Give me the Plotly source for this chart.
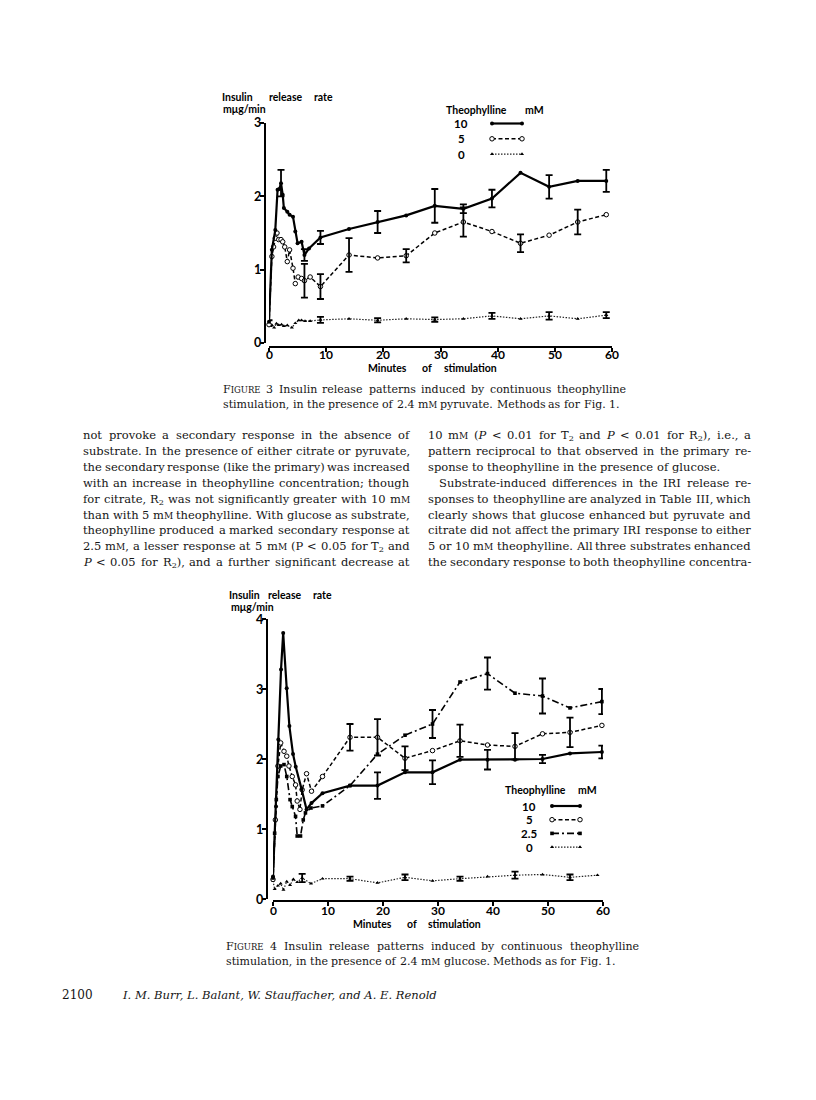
import re
import plotly.graph_objects as go

W, H = 816, 1100          # browser window
OFF = 8                   # default body margin of the page
FW, FH = W - 2 * OFF, H - 2 * OFF

# ---------------- data : Figure 3 (2.4 mM pyruvate) ----------------
f3_xticks = [0, 10, 20, 30, 40, 50, 60]
f3_yticks = [0, 1, 2, 3]

f3_t10 = [0, 0.5, 1.1, 1.5, 1.8, 2.1, 2.4, 2.6, 3.2, 3.6, 4.2, 4.6, 5.0, 5.7, 6.2, 7.0,
          9, 14, 19, 24, 29, 34, 39, 44, 49, 54, 59]
f3_v10 = [0.29, 1.27, 1.54, 2.09, 2.10, 2.18, 2.02, 1.84, 1.79, 1.75, 1.72, 1.52, 1.36, 1.38, 1.20, 1.29,
          1.44, 1.555, 1.65, 1.74, 1.87, 1.83, 1.97, 2.32, 2.13, 2.21, 2.21]
f3_e10 = [None, None, None, None, None, 0.18, None, None, None, None, None, None, None, None, 0.08, None,
          0.09, None, 0.15, None, 0.23, 0.06, 0.12, None, 0.16, None, 0.15]

f3_t5 = [0, 0.5, 0.8, 1.1, 1.4, 1.7, 2.1, 2.4, 2.75, 3.2, 3.6, 4.2, 4.6, 5.1, 5.7, 6.2, 7.2,
         9, 14, 19, 24, 29, 34, 39, 44, 49, 54, 59]
f3_v5 = [0.25, 1.18, 1.31, 1.43, 1.50, 1.41, 1.41, 1.38, 1.31, 1.11, 1.27, 1.02, 0.81, 0.90, 0.88, 0.85, 0.90,
         0.77, 1.20, 1.16, 1.19, 1.50, 1.65, 1.52, 1.36, 1.47, 1.65, 1.75]
f3_e5 = [None, None, None, None, None, None, None, None, None, None, None, None, None, None, None, 0.23, None,
         0.17, 0.23, None, 0.09, None, 0.20, None, 0.12, None, 0.17, None]

f3_t0 = [0, 0.5, 0.9, 1.3, 1.7, 2.2, 2.6, 3.2, 4.0, 4.6, 5.2, 5.7, 6.3, 7.2,
         9, 14, 19, 24, 29, 34, 39, 44, 49, 54, 59]
f3_v0 = [0.27, 0.245, 0.21, 0.265, 0.245, 0.25, 0.23, 0.24, 0.21, 0.27, 0.31, 0.31, 0.30, 0.30,
         0.315, 0.33, 0.31, 0.33, 0.32, 0.33, 0.37, 0.33, 0.37, 0.33, 0.38]
f3_e0 = [0.04, None, None, None, None, None, None, None, None, None, None, None, None, None,
         0.04, None, 0.03, None, 0.03, None, 0.04, None, 0.05, None, 0.04]

# ---------------- data : Figure 4 (2.4 mM glucose) ----------------
f4_xticks = [0, 10, 20, 30, 40, 50, 60]
f4_yticks = [0, 1, 2, 3, 4]

f4_t10 = [0, 0.55, 0.97, 1.46, 1.85, 2.49, 2.98, 3.64, 4.13, 5.2, 6.1, 7.0,
          9, 14, 19, 24, 29, 34, 39, 44, 49, 54, 59.8]
f4_v10 = [0.32, 1.32, 2.28, 3.28, 3.80, 3.01, 2.47, 2.07, 1.89, 1.57, 1.28, 1.37,
          1.51, 1.62, 1.62, 1.81, 1.81, 1.99, 1.99, 1.99, 2.00, 2.08, 2.10]
f4_e10 = [None, None, None, None, None, None, None, None, None, None, None, None,
          None, None, 0.19, None, 0.17, None, 0.14, None, 0.06, None, 0.09]

f4_t5 = [0, 0.43, 0.9, 1.4, 2.0, 2.5, 2.9, 3.5, 4.1, 4.4, 4.9, 5.3, 6.1, 7.0,
         9, 14, 19, 24, 29, 34, 39, 44, 49, 54, 59.8]
f4_v5 = [0.28, 1.13, 1.90, 2.23, 2.11, 2.04, 1.90, 1.75, 1.63, 1.40, 1.28, 1.56, 1.79, 1.54,
         1.75, 2.31, 2.31, 2.01, 2.12, 2.26, 2.20, 2.18, 2.36, 2.38, 2.48]
f4_e5 = [None, None, None, None, None, None, None, None, None, None, None, None, None, None,
         None, 0.19, 0.26, 0.17, None, 0.23, None, 0.19, None, 0.21, None]

f4_t25 = [0, 0.3, 0.6, 0.9, 1.4, 2.0, 2.5, 3.1, 3.5, 4.1, 4.4, 5.0, 5.5, 5.9, 6.9,
          9, 14, 19, 24, 29, 34, 39, 44, 49, 54, 59.8]
f4_v25 = [0.30, 0.94, 1.42, 1.75, 1.90, 1.92, 1.75, 1.42, 1.32, 1.18, 0.90, 0.90, 1.13, 1.23, 1.30,
          1.33, 1.62, 2.07, 2.34, 2.50, 3.10, 3.22, 2.94, 2.90, 2.73, 2.82]
f4_e25 = [None, None, None, None, None, None, None, None, None, None, None, None, None, None, None,
          None, None, None, None, 0.20, None, 0.23, None, 0.25, None, 0.18]

f4_t0 = [0, 0.3, 0.9, 1.4, 1.9, 2.5, 3.1, 3.7, 4.4, 5.3, 6.9,
         9, 14, 19, 24, 29, 34, 39, 44, 49, 54, 59]
f4_v0 = [0.26, 0.14, 0.19, 0.22, 0.13, 0.25, 0.20, 0.28, 0.24, 0.30, 0.22,
         0.29, 0.29, 0.23, 0.31, 0.26, 0.29, 0.32, 0.34, 0.35, 0.31, 0.34]
f4_e0 = [None, None, None, None, None, None, None, None, None, 0.06, None,
         None, 0.03, None, 0.04, None, 0.03, None, 0.05, None, 0.04, None]

f3_legend = ["10", "5", "0"]
f4_legend = ["10", "5", "2.5", "0"]

# ---------------- text ----------------
left_lines = [
    "not provoke a secondary response in the absence of",
    "substrate. In the presence of either citrate or pyruvate,",
    "the secondary response (like the primary) was increased",
    "with an increase in theophylline concentration; though",
    "for citrate, R_2 was not significantly greater with 10 m{M}",
    "than with 5 m{M} theophylline. With glucose as substrate,",
    "theophylline produced a marked secondary response at",
    "2.5 m{M}, a lesser response at 5 m{M} (P &lt; 0.05 for T_2 and",
    "*P* &lt; 0.05 for R_2), and a further significant decrease at",
]
right_lines = [
    "10 m{M} (*P* &lt; 0.01 for T_2 and *P* &lt; 0.01 for R_2), i.e., a",
    "pattern reciprocal to that observed in the primary re-",
    "sponse to theophylline in the presence of glucose.",
    "Substrate-induced differences in the IRI release re-",
    "sponses to theophylline are analyzed in Table III, which",
    "clearly shows that glucose enhanced but pyruvate and",
    "citrate did not affect the primary IRI response to either",
    "5 or 10 m{M} theophylline. All three substrates enhanced",
    "the secondary response to both theophylline concentra-",
]
cap3 = ["F{IGURE} 3 Insulin release patterns induced by continuous theophylline",
        "stimulation, in the presence of 2.4 m{M} pyruvate. Methods as for Fig. 1."]
cap4 = ["F{IGURE} 4 Insulin release patterns induced by continuous theophylline",
        "stimulation, in the presence of 2.4 m{M} glucose. Methods as for Fig. 1."]
page_no = "2100"
authors = "I. M. Burr, L. Balant, W. Stauffacher, and A. E. Renold"

# ---------------- helpers ----------------
def px_x(px):
    return (px - OFF) / FW


def px_y(py):
    return 1 - (py - OFF) / FH


DV = {' ': .318, '.': .318, ',': .318, ';': .337, ':': .337, '(': .390, ')': .390, '-': .338,
      '<': .838, "'": .275}
for c in '0123456789':
    DV[c] = .636
DV.update(dict(a=.596, b=.640, c=.560, d=.640, e=.592, f=.370, g=.640, h=.644, i=.320, j=.310,
               k=.600, l=.320, m=.948, n=.644, o=.602, p=.640, q=.640, r=.478, s=.513, t=.402,
               u=.644, v=.565, w=.856, x=.564, y=.565, z=.523,
               A=.722, B=.735, C=.720, D=.802, E=.730, F=.694, G=.799, H=.872, I=.395, J=.401,
               K=.747, L=.664, M=1.024, N=.875, O=.820, P=.673, Q=.820, R=.753, S=.685, T=.667,
               U=.843, V=.722, W=1.028, X=.712, Y=.660, Z=.695))


def est_px(raw, size, sc):
    raw = raw.replace('&lt;', '<')
    tot = 0.0
    for m in re.finditer(r'\{([A-Z]+)\}|([A-Za-z])_2|\*|.', raw):
        if m.group(1):
            tot += sum(DV.get(c, .7) for c in m.group(1)) * sc
        elif m.group(2):
            tot += DV.get(m.group(2), .7) * size + DV['2'] * size * 0.7
        elif m.group(0) == '*':
            continue
        else:
            tot += DV.get(m.group(0), .6) * size
    return tot


def markup(raw, sc):
    s = re.sub(r'\{([A-Z]+)\}', lambda m: "<span style='font-size:%gpx'>%s</span>" % (sc, m.group(1)), raw)
    s = re.sub(r'([A-Za-z])_2', r'\1<sub>2</sub>', s)
    s = re.sub(r'\*([^*]+)\*', r'<i>\1</i>', s)
    return s


SERIF = "DejaVu Serif"
INK = "#151515"
annotations = []


def add_text_line(text, x0, x1, yc, size, sc, justify):
    words = text.split()
    widths = [est_px(w, size, sc) for w in words]
    if justify and len(words) > 1:
        gap = (x1 - x0 - sum(widths)) / (len(words) - 1)
    else:
        gap = DV[' '] * size
    x = x0
    n = len(words)
    for k, (w, wd) in enumerate(zip(words, widths)):
        if k == 0:
            xa, xp = 'left', x
        elif justify and k == n - 1:
            xa, xp = 'right', x1
        else:
            xa, xp = 'center', x + wd / 2
        annotations.append(dict(x=px_x(xp), y=px_y(yc - 0.62 * size), xref='paper', yref='paper',
                                xanchor=xa, yanchor='top', text=markup(w, sc), showarrow=False,
                                borderpad=0, borderwidth=0,
                                font=dict(family=SERIF, size=size, color=INK)))
        x += wd + gap


def lato(size):
    return dict(family='Lato', size=size, color='black', weight='bold')


def add_label(text, xc, yc, size=10, anchor='center'):
    annotations.append(dict(x=px_x(xc), y=px_y(yc), xref='paper', yref='paper', xanchor=anchor,
                            yanchor='middle', text=text, showarrow=False, borderpad=0, borderwidth=0,
                            font=lato(size)))


def add_xtick_labels(ticks, xref, yc, size):
    for v in ticks:
        annotations.append(dict(x=v, y=px_y(yc), xref=xref, yref='paper', xanchor='center',
                                yanchor='middle', text=str(v), showarrow=False, borderpad=0,
                                borderwidth=0, font=lato(size)))


def add_ytick_labels(ticks, yref, xr, size):
    for v in ticks:
        annotations.append(dict(x=px_x(xr), y=v, xref='paper', yref=yref, xanchor='right',
                                yanchor='middle', text=str(v), showarrow=False, borderpad=0,
                                borderwidth=0, font=lato(size)))


# ---------------- figure ----------------
STY = {
    "10": dict(line=dict(color='black', width=2.2, dash='solid'),
               marker=dict(symbol='circle', size=4, color='black')),
    "5": dict(line=dict(color='black', width=1.5, dash='4px,2.5px'),
              marker=dict(symbol='circle', size=4.5, color='white', line=dict(color='black', width=1))),
    "2.5": dict(line=dict(color='black', width=1.6, dash='7px,3px,2px,3px'),
                marker=dict(symbol='square', size=3.6, color='black')),
    "0": dict(line=dict(color='#222', width=1.2, dash='1.5px,1.5px'),
              marker=dict(symbol='triangle-up', size=3.6, color='black')),
}

fig = go.Figure()


def add_series(t, v, e, key, xa, ya):
    fig.add_trace(go.Scatter(x=t, y=v, mode='lines+markers', xaxis=xa, yaxis=ya, cliponaxis=False,
                             showlegend=False, hoverinfo='skip', **STY[key]))
    idx = [i for i, err in enumerate(e) if err is not None]
    fig.add_trace(go.Scatter(x=[t[i] for i in idx], y=[v[i] for i in idx], mode='markers',
                             xaxis=xa, yaxis=ya, cliponaxis=False, showlegend=False, hoverinfo='skip',
                             marker=dict(size=1, color='rgba(0,0,0,0)'),
                             error_y=dict(type='data', array=[e[i] for i in idx], symmetric=True,
                                          color='black', thickness=1.8, width=3.5)))


add_series(f3_t0, f3_v0, f3_e0, "0", 'x', 'y')
add_series(f3_t5, f3_v5, f3_e5, "5", 'x', 'y')
add_series(f3_t10, f3_v10, f3_e10, "10", 'x', 'y')

add_series(f4_t0, f4_v0, f4_e0, "0", 'x2', 'y2')
add_series(f4_t5, f4_v5, f4_e5, "5", 'x2', 'y2')
add_series(f4_t25, f4_v25, f4_e25, "2.5", 'x2', 'y2')
add_series(f4_t10, f4_v10, f4_e10, "10", 'x2', 'y2')


# legend samples (page-pixel overlay axis)
def add_legend(keys, label_x, x0, x1, y0, dy, head_x, head_mm_x, head_y):
    add_label("Theophylline", head_x, head_y, 10.5)
    add_label("mM", head_mm_x, head_y, 10.5)
    for k, key in enumerate(keys):
        yy = y0 + k * dy
        add_label(key, label_x, yy, 11.5)
        fig.add_trace(go.Scatter(x=[x0, x1], y=[yy, yy], mode='lines+markers', xaxis='x3', yaxis='y3',
                                 showlegend=False, hoverinfo='skip', cliponaxis=False, **STY[key]))


add_legend(f3_legend, 461, 492, 522, 123.5, 15.3, 476, 534, 110)
add_legend(f4_legend, 529, 552, 580, 806, 13.7, 535, 587, 790)

# tick labels
add_xtick_labels(f3_xticks, 'x', 354.5, 12)
add_ytick_labels(f3_yticks, 'y', 261, 12.5)
add_xtick_labels(f4_xticks, 'x2', 910, 12)
add_ytick_labels(f4_yticks, 'y2', 263, 12.5)

# axis titles (chart text)
for xc, word in [(238, "Insulin"), (286, "release"), (323.5, "rate")]:
    add_label(word, xc, 97, 10.5)
add_label("mμg/min", 223, 109.5, 10.5, 'left')
for xc, word in [(244, "Insulin"), (285, "release"), (322.5, "rate")]:
    add_label(word, xc, 595, 10.5)
add_label("mμg/min", 231, 607, 10.5, 'left')
for xc, word in [(387, "Minutes"), (427, "of"), (470, "stimulation")]:
    add_label(word, xc, 367.5, 10.5)
for xc, word in [(372, "Minutes"), (412, "of"), (454, "stimulation")]:
    add_label(word, xc, 923.5, 10.5)

# body text columns
LINE0, LEAD = 435.5, 15.85
for i, line in enumerate(left_lines):
    add_text_line(line, 83, 410, LINE0 + i * LEAD, 11.5, 9, True)
for i, line in enumerate(right_lines):
    x0 = 439 if i == 3 else 428
    add_text_line(line, x0, 751, LINE0 + i * LEAD, 11.5, 9, i != 2)

# captions
add_text_line(cap3[0], 223, 626, 390, 11, 8.5, True)
add_text_line(cap3[1], 223, 626, 405, 11, 8.5, False)
add_text_line(cap4[0], 226, 639, 947, 11, 8.5, True)
add_text_line(cap4[1], 226, 639, 962, 11, 8.5, False)

# footer
annotations.append(dict(x=px_x(62), y=px_y(995), xref='paper', yref='paper', xanchor='left', yanchor='middle',
                        text=page_no, showarrow=False, borderpad=0, borderwidth=0,
                        font=dict(family=SERIF, size=12, color=INK)))
auth_size = min(12.5, 319 / (est_px(authors, 1, 1)))
annotations.append(dict(x=px_x(122), y=px_y(995), xref='paper', yref='paper', xanchor='left', yanchor='middle',
                        text="<i>%s</i>" % authors, showarrow=False, borderpad=0, borderwidth=0,
                        font=dict(family=SERIF, size=auth_size, color=INK)))


def axis(**kw):
    d = dict(showline=True, linecolor='black', linewidth=2, ticks='outside', ticklen=4, tickwidth=2,
             tickcolor='black', showgrid=False, zeroline=False, showticklabels=False, fixedrange=True,
             tickmode='array')
    d.update(kw)
    return d


fig.update_layout(
    width=FW, height=FH, autosize=False,
    margin=dict(l=0, r=0, t=0, b=0),
    paper_bgcolor='white', plot_bgcolor='rgba(0,0,0,0)',
    showlegend=False,
    xaxis=axis(domain=[px_x(269), px_x(612)], range=[0, 60], tickvals=f3_xticks,
               anchor='free', position=px_y(346.5)),
    yaxis=axis(domain=[px_y(343), px_y(123)], range=[0, 3], tickvals=f3_yticks,
               anchor='free', position=px_x(265)),
    xaxis2=axis(domain=[px_x(273), px_x(603)], range=[0, 60], tickvals=f4_xticks,
                anchor='free', position=px_y(901)),
    yaxis2=axis(domain=[px_y(899), px_y(619)], range=[0, 4], tickvals=f4_yticks,
                anchor='free', position=px_x(267)),
    xaxis3=dict(domain=[0, 1], range=[OFF, OFF + FW], visible=False, anchor='y3', fixedrange=True),
    yaxis3=dict(domain=[0, 1], range=[OFF + FH, OFF], visible=False, anchor='x3', fixedrange=True),
    annotations=annotations,
)

fig.write_html("out.html")
